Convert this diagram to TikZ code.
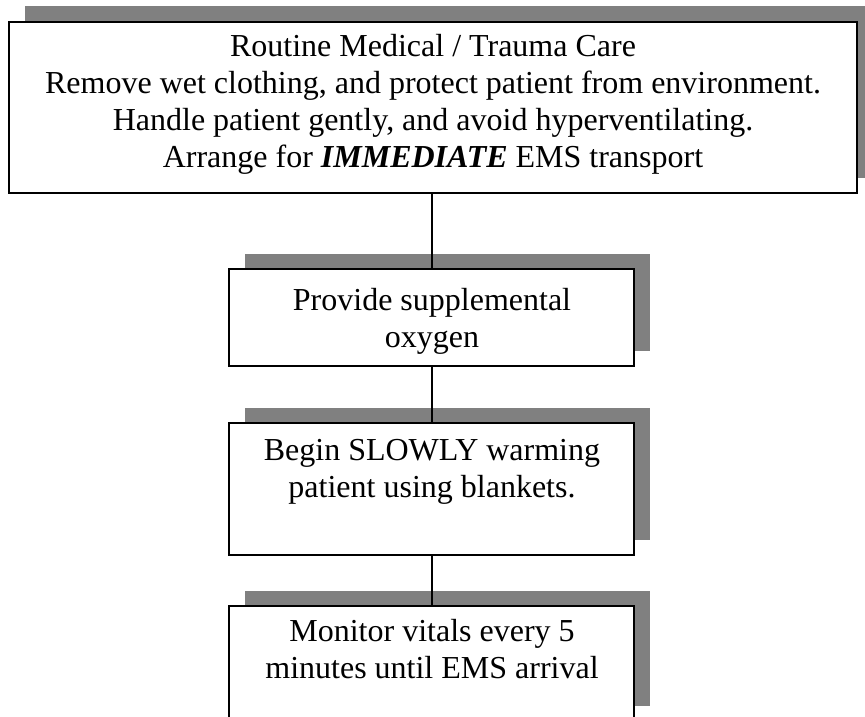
\documentclass[tikz,border=0pt]{standalone}
\usepackage{fontspec}
\setmainfont{Liberation Serif}
\usetikzlibrary{shadows}
\definecolor{shadowgray}{HTML}{808080}
\tikzset{
  stepbox/.style={draw=black, line width=2pt, fill=white, rectangle, inner sep=0pt,
    general shadow={fill=shadowgray, draw=none, shadow xshift=16pt, shadow yshift=15.5pt}},
  steptext/.style={align=center, inner sep=0pt, font=\fontsize{32}{37}\selectfont},
  link/.style={draw=black, line width=2pt}
}
\begin{document}
\begin{tikzpicture}[x=1pt,y=-1pt]
\useasboundingbox (0,0) rectangle (865,717);
\clip (0,0) rectangle (865,717);
\node[stepbox, minimum width=848pt, minimum height=171pt] (top) at (433,107.5) {};
\node[stepbox, minimum width=405pt, minimum height=97pt] (b2) at (431.5,317.5) {};
\node[stepbox, minimum width=405pt, minimum height=132pt] (b3) at (431.5,489) {};
\node[stepbox, minimum width=405pt, minimum height=115pt] (b4) at (431.5,663.5) {};
\draw[link] (b2.north) -- (b2.north |- top.south);
\draw[link] (b3.north) -- (b3.north |- b2.south);
\draw[link] (b4.north) -- (b4.north |- b3.south);
\node[steptext] (t1) at (433,105) {\strut Routine Medical / Trauma Care\\\strut Remove wet clothing, and protect patient from environment.\\\strut Handle patient gently, and avoid hyperventilating.\\\strut Arrange for \textbf{\textit{IMMEDIATE}} EMS transport};
\node[steptext] (t2) at (432,322) {\strut Provide supplemental\\\strut oxygen};
\node[steptext] (t3) at (432,472) {\strut Begin SLOWLY warming\\\strut patient using blankets.};
\node[steptext] (t4) at (432,653) {\strut Monitor vitals every 5\\\strut minutes until EMS arrival};
\end{tikzpicture}
\end{document}
